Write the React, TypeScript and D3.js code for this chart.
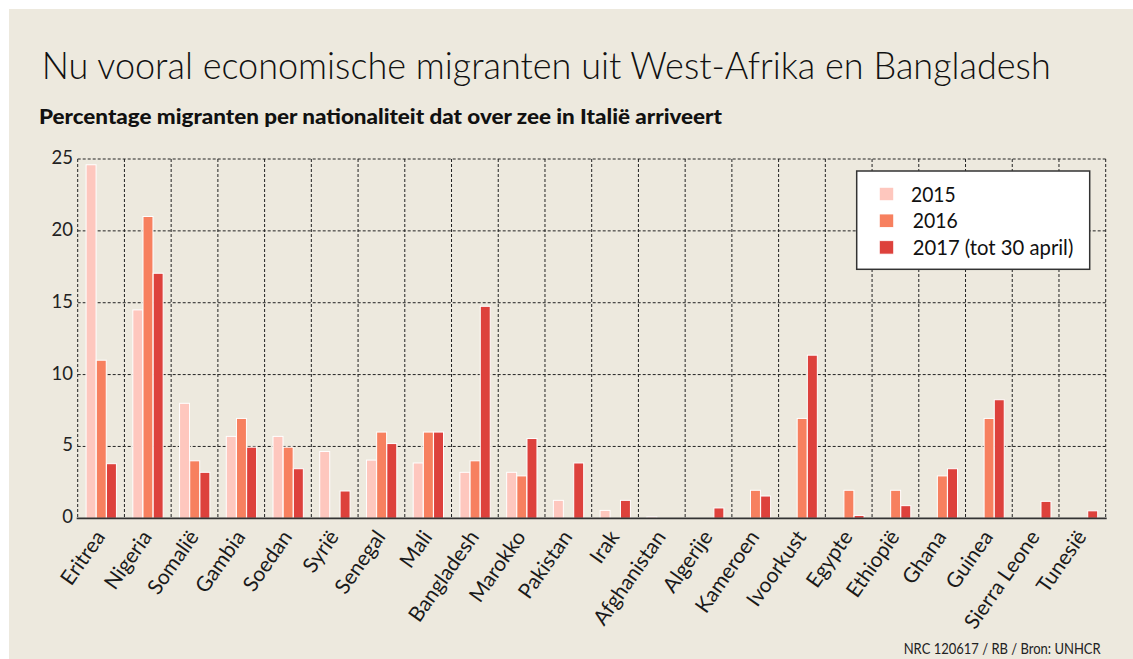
import React from "react";
import * as d3 from "d3";

const countries = [
  "Eritrea", "Nigeria", "Somalië", "Gambia", "Soedan", "Syrië", "Senegal", "Mali",
  "Bangladesh", "Marokko", "Pakistan", "Irak", "Afghanistan", "Algerije", "Kameroen",
  "Ivoorkust", "Egypte", "Ethiopië", "Ghana", "Guinea", "Sierra Leone", "Tunesië",
];
const v2015 = [24.6, 14.5, 8.0, 5.7, 5.7, 4.65, 4.05, 3.85, 3.2, 3.2, 1.25, 0.55, 0.1, 0, 0, 0, 0, 0, 0, 0, 0, 0];
const v2016 = [11.0, 21.0, 4.0, 6.95, 4.95, 0, 6.0, 6.0, 4.0, 2.95, 0, 0, 0, 0, 1.95, 6.95, 1.95, 1.95, 2.95, 6.95, 0, 0];
const v2017 = [3.8, 17.05, 3.2, 4.95, 3.45, 1.9, 5.2, 6.0, 14.75, 5.55, 3.85, 1.25, 0, 0.72, 1.55, 11.35, 0.2, 0.88, 3.45, 8.25, 1.18, 0.52];
const seriesNames = ["2015", "2016", "2017 (tot 30 april)"];
const seriesColors = ["#fec7be", "#f7805f", "#dd413c"];
const yTicks = [0, 5, 10, 15, 20, 25];

const title = "Nu vooral economische migranten uit West-Afrika en Bangladesh";
const subtitle = "Percentage migranten per nationaliteit dat over zee in Italië arriveert";
const source = "NRC 120617 / RB / Bron: UNHCR";

export default function App() {
  const W = 1133, H = 659;
  const left = 77.7, right = 1105.7, top = 159, bottom = 518.3;
  const x0 = d3.scaleBand<string>().domain(countries).range([left, right]).padding(0);
  const bw = x0.bandwidth();
  const x1 = d3.scaleBand<string>().domain(seriesNames).range([8.2, bw - 7.8]).padding(0.02);
  const y = d3.scaleLinear().domain([0, 25]).range([bottom, top]);
  const series = [v2015, v2016, v2017];
  const font = "Lato, 'Open Sans', sans-serif";

  const legendX = 856.7, legendY = 171;
  const legendTextLen = [44.7, 45, 160.6];

  return (
    <svg width={W} height={H} style={{ position: "absolute", left: 0, top: 0 }} fontFamily={font}>
      <rect x={0} y={0} width={W} height={H} fill="#ffffff" />
      <rect x={9} y={9} width={W - 9} height={H - 9} fill="#ede9de" />
      <text x={41.7} y={79} fontSize={37} fontWeight={300} fill="#111" textLength={1009} lengthAdjust="spacingAndGlyphs">
        {title}
      </text>
      <text x={39} y={124} fontSize={20} fontWeight={900} fill="#111" textLength={683} lengthAdjust="spacingAndGlyphs">
        {subtitle}
      </text>

      {/* grid */}
      <g stroke="#222" strokeWidth={1} strokeDasharray="3,2" fill="none">
        {yTicks.filter((t) => t > 0).map((t) => (
          <line key={"h" + t} x1={left} x2={right} y1={y(t)} y2={y(t)} />
        ))}
        {d3.range(countries.length + 1).map((i) => {
          const xx = i < countries.length ? (x0(countries[i]) as number) : right;
          return <line key={"v" + i} x1={xx} x2={xx} y1={top} y2={bottom} />;
        })}
      </g>

      {/* y tick labels */}
      {yTicks.map((t) => (
        <text key={"yt" + t} x={73} y={y(t) + 5} textAnchor="end" fontSize={18.5} fill="#222">
          {t}
        </text>
      ))}

      {/* bars */}
      {countries.map((c, i) => (
        <g key={c} transform={`translate(${x0(c)},0)`}>
          {series.map((s, j) =>
            s[i] > 0 ? (
              <rect
                key={j}
                x={x1(seriesNames[j])}
                y={y(s[i])}
                width={x1.bandwidth()}
                height={bottom - y(s[i])}
                fill={seriesColors[j]}
                stroke="#ffffff"
                strokeWidth={1}
              />
            ) : null
          )}
        </g>
      ))}

      {/* axis line */}
      <line x1={left - 1} x2={right + 1} y1={bottom} y2={bottom} stroke="#333" strokeWidth={1.8} />

      {/* x labels */}
      {countries.map((c) => {
        const cx = (x0(c) as number) + bw / 2 + 5;
        const cy = 537;
        return (
          <text key={"xl" + c} x={cx} y={cy} textAnchor="end" fontSize={21} fill="#1a1a1a"
            transform={`rotate(-55,${cx},${cy})`}>
            {c}
          </text>
        );
      })}

      {/* legend */}
      <rect x={legendX} y={legendY} width={233} height={98.3} fill="#ffffff" stroke="#333" strokeWidth={1.5} />
      {seriesNames.map((n, j) => (
        <g key={"lg" + n}>
          <rect x={879.3} y={187.3 + j * 26.7} width={14.4} height={13.4} fill={seriesColors[j]} stroke="#ffffff" strokeWidth={0.8} />
          <text x={j === 0 ? 911 : 912.7} y={201.7 + j * 26.7} fontSize={21.5} fill="#111"
            textLength={legendTextLen[j]} lengthAdjust="spacingAndGlyphs">
            {n}
          </text>
        </g>
      ))}

      <text x={1100.7} y={654} textAnchor="end" fontSize={14.5} fill="#222" textLength={197} lengthAdjust="spacingAndGlyphs">
        {source}
      </text>
    </svg>
  );
}
